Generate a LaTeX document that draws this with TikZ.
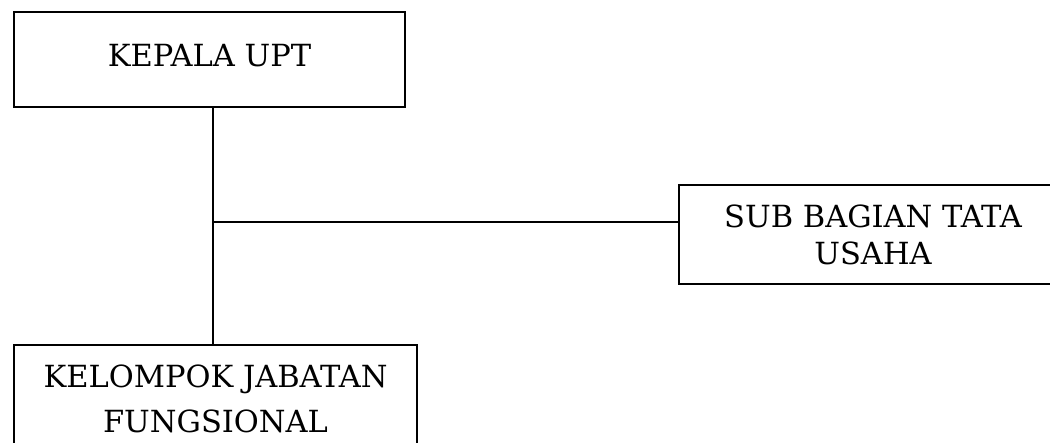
\documentclass[tikz,border=0pt]{standalone}
\usepackage{fontspec}
\setmainfont{DejaVu Serif}
\begin{document}
\begin{tikzpicture}[x=1pt,y=1pt,
  orgbox/.style={draw=black, line width=1.4pt, fill=none, inner sep=0pt,
    align=center},
  link/.style={draw=black, line width=1.4pt}]
  \useasboundingbox (0,0) rectangle (1050,-442);
  \clip (0,0) rectangle (1050,-442);
  % boxes
  \node[orgbox, minimum width=391pt, minimum height=95pt, text depth=8pt,
    font=\fontsize{30.5}{37}\selectfont] (kepala) at (209.5,-59.5) {KEPALA UPT};
  \node[orgbox, minimum width=388pt, minimum height=99pt,
    font=\fontsize{30.5}{37}\selectfont] (tu) at (873,-234.5) {SUB BAGIAN TATA\\USAHA};
  \node[orgbox, minimum width=403pt, minimum height=108pt,
    font=\fontsize{30.5}{45}\selectfont] (jf) at (215.5,-399) {KELOMPOK JABATAN\\FUNGSIONAL};
  % connectors
  \coordinate (jct) at (213,-222);
  \draw[link] (kepala.south -| jct) -- (jf.north -| jct);
  \draw[link] (jct) -- (jct -| tu.west);
\end{tikzpicture}
\end{document}
